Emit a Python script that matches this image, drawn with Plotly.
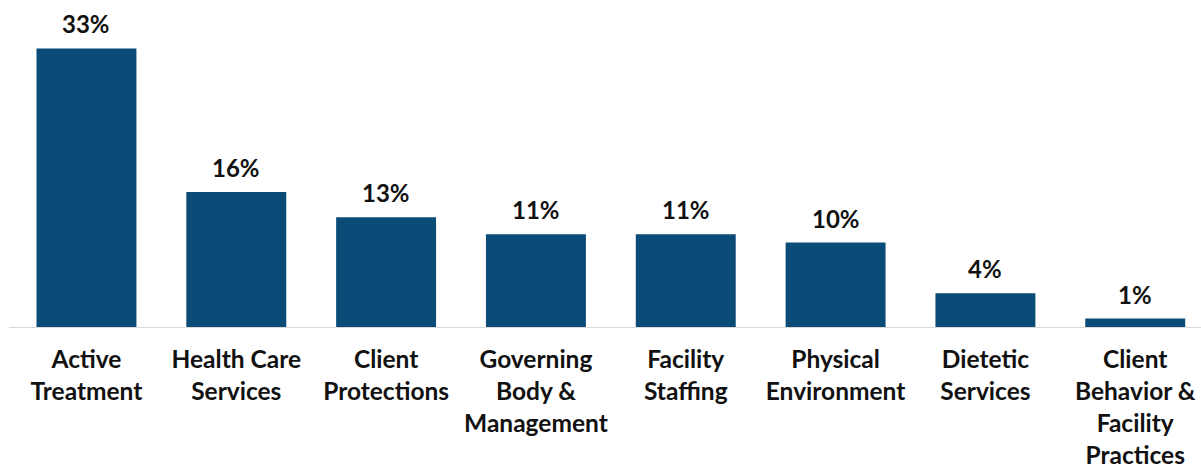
import plotly.graph_objects as go

categories = [
    "Active<br>Treatment",
    "Health Care<br>Services",
    "Client<br>Protections",
    "Governing<br>Body &<br>Management",
    "Facility<br>Staffing",
    "Physical<br>Environment",
    "Dietetic<br>Services",
    "Client<br>Behavior &<br>Facility<br>Practices",
]
values = [33, 16, 13, 11, 11, 10, 4, 1]
value_labels = [f"{v}%" for v in values]

BAR_COLOR = "#0b4b78"
TEXT_COLOR = "#111111"
FONT = "Lato"
SIZE = 24
TICK_SIZE = 24.5

fig = go.Figure(
    go.Bar(
        x=categories,
        y=values,
        marker=dict(color=BAR_COLOR, line=dict(width=0)),
        hoverinfo="skip",
    )
)

for c, v, t in zip(categories, values, value_labels):
    fig.add_annotation(
        x=c, y=v, text=t, showarrow=False,
        xanchor="center", yanchor="bottom", yshift=8,
        font=dict(family=FONT, size=SIZE, color=TEXT_COLOR, weight="bold"),
    )

fig.update_layout(
    width=1201, height=469,
    margin=dict(l=9, r=0, t=0, b=142, autoexpand=False),
    paper_bgcolor="white", plot_bgcolor="white",
    bargap=0.333,
    showlegend=False,
    font=dict(family=FONT, size=SIZE, color=TEXT_COLOR, weight="bold"),
)
fig.update_xaxes(
    range=[-0.517, 7.439],
    automargin=False,
    showline=True, linecolor="#d9d9d9", linewidth=1,
    ticks="", showgrid=False, zeroline=False,
    tickfont=dict(family=FONT, size=TICK_SIZE, color=TEXT_COLOR, weight="bold"),
    ticklabelstandoff=11,
)
fig.update_yaxes(
    range=[0, 38.73], visible=False, showgrid=False, zeroline=False,
    automargin=False,
)

fig.write_html("out.html")
